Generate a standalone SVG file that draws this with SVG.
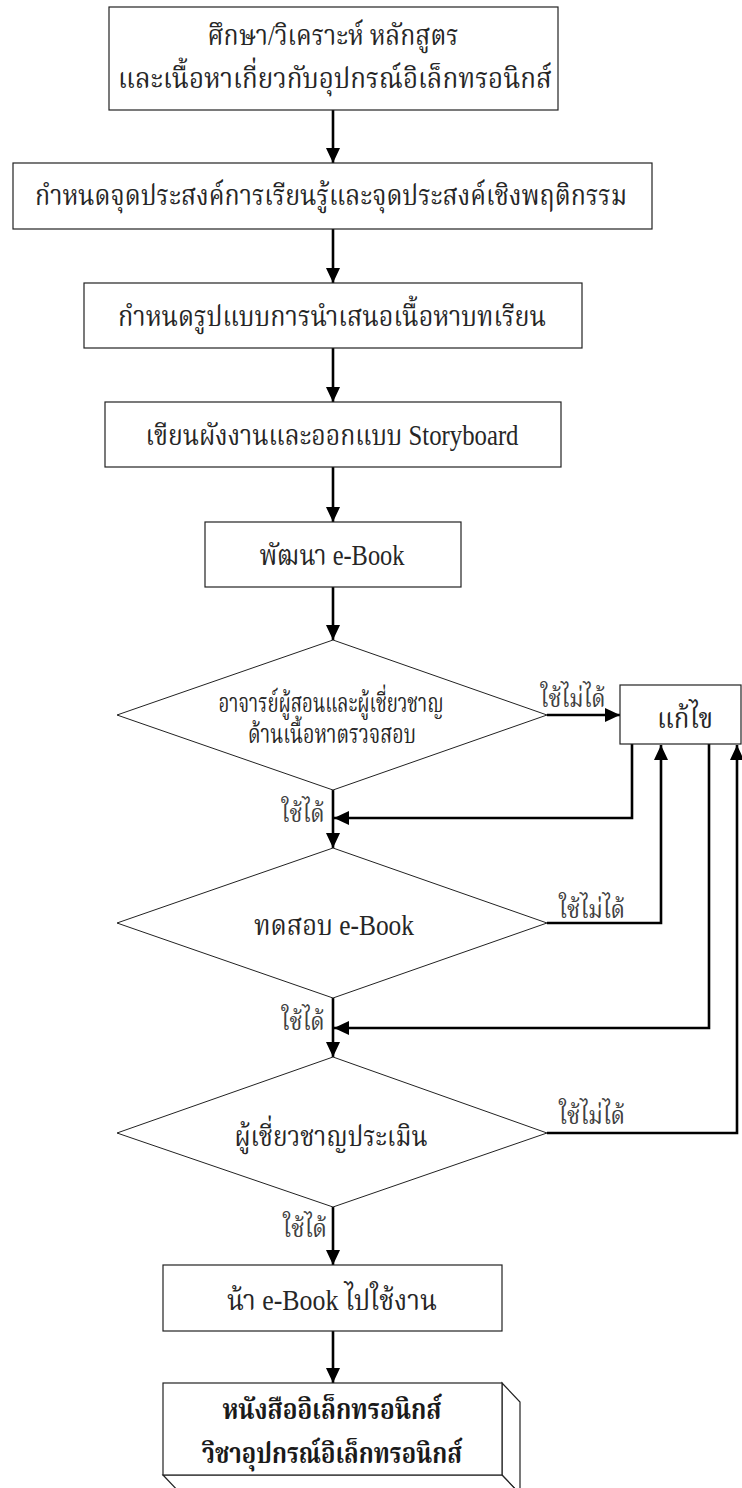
<svg xmlns="http://www.w3.org/2000/svg" width="742" height="1488" viewBox="0 0 742 1488">
<style>
.box{fill:#fff;stroke:#222;stroke-width:1.2}
.dia{fill:#fff;stroke:#222;stroke-width:1}
.t{font-family:"Liberation Serif","Noto Serif Thai","Noto Sans Thai",serif;font-size:29px;fill:#262626;text-anchor:middle}
.s{font-size:26px}
.b{font-weight:bold;fill:#1a1a1a}
.lbl{font-family:"Liberation Serif","Noto Serif Thai","Noto Sans Thai",serif;font-size:24px;fill:#404040;text-anchor:middle}
.c{fill:none;stroke:#000;stroke-width:2.6}
.a{marker-end:url(#ah)}
</style>
<defs>
<marker id="ah" markerUnits="userSpaceOnUse" markerWidth="16" markerHeight="14" refX="15" refY="7" orient="auto">
<path d="M0,0 L15,7 L0,14 z" fill="#000"/>
</marker>
</defs>
<g id="connectors">
<line class="c a" x1="333" y1="110" x2="333" y2="163"/>
<line class="c a" x1="333" y1="229" x2="333" y2="283"/>
<line class="c a" x1="333" y1="348" x2="333" y2="402"/>
<line class="c a" x1="333" y1="467" x2="333" y2="522"/>
<line class="c a" x1="333" y1="587" x2="333" y2="640"/>
<line class="c a" x1="547" y1="715" x2="620" y2="715"/>
<line class="c a" x1="333" y1="790" x2="333" y2="848"/>
<path class="c a" d="M632,744 V818 H334"/>
<path class="c a" d="M547,923 H661 V745"/>
<path class="c a" d="M709,744 V1028 H334"/>
<line class="c a" x1="333" y1="998" x2="333" y2="1057"/>
<path class="c a" d="M547,1133 H737 V745"/>
<line class="c a" x1="333" y1="1207" x2="333" y2="1265"/>
<line class="c a" x1="333" y1="1331" x2="333" y2="1383"/>
<text class="lbl" x="573" y="707" textLength="65" lengthAdjust="spacingAndGlyphs">ใช้ไม่ได้</text>
<text class="lbl" x="303" y="822" textLength="43" lengthAdjust="spacingAndGlyphs">ใช้ได้</text>
<text class="lbl" x="592" y="918" textLength="66" lengthAdjust="spacingAndGlyphs">ใช้ไม่ได้</text>
<text class="lbl" x="303" y="1030" textLength="43" lengthAdjust="spacingAndGlyphs">ใช้ได้</text>
<text class="lbl" x="592" y="1124" textLength="66" lengthAdjust="spacingAndGlyphs">ใช้ไม่ได้</text>
<text class="lbl" x="305" y="1237" textLength="44" lengthAdjust="spacingAndGlyphs">ใช้ได้</text>
</g>
<g id="n1">
<rect class="box" x="109" y="7" width="449" height="103"/>
<text class="t" x="333" y="45" textLength="251" lengthAdjust="spacingAndGlyphs">ศึกษา/วิเคราะห์ หลักสูตร</text>
<text class="t" x="335" y="88" textLength="434" lengthAdjust="spacingAndGlyphs">และเนื้อหาเกี่ยวกับอุปกรณ์อิเล็กทรอนิกส์</text>
</g>
<g id="n2">
<rect class="box" x="13" y="163" width="639" height="66"/>
<text class="t" x="331" y="205" textLength="592" lengthAdjust="spacingAndGlyphs">กำหนดจุดประสงค์การเรียนรู้และจุดประสงค์เชิงพฤติกรรม</text>
</g>
<g id="n3">
<rect class="box" x="84" y="283" width="498" height="65"/>
<text class="t" x="332" y="326" textLength="428" lengthAdjust="spacingAndGlyphs">กำหนดรูปแบบการนำเสนอเนื้อหาบทเรียน</text>
</g>
<g id="n4">
<rect class="box" x="105" y="402" width="456" height="65"/>
<text class="t" x="332" y="445" textLength="373" lengthAdjust="spacingAndGlyphs">เขียนผังงานและออกแบบ Storyboard</text>
</g>
<g id="n5">
<rect class="box" x="205" y="522" width="256" height="65"/>
<text class="t" x="332" y="565" textLength="145" lengthAdjust="spacingAndGlyphs">พัฒนา e-Book</text>
</g>
<g id="d1">
<polygon class="dia" points="333,640 547,715 333,790 117,715"/>
<text class="t s" x="331" y="712" textLength="225" lengthAdjust="spacingAndGlyphs">อาจารย์ผู้สอนและผู้เชี่ยวชาญ</text>
<text class="t s" x="332" y="743" textLength="168" lengthAdjust="spacingAndGlyphs">ด้านเนื้อหาตรวจสอบ</text>
</g>
<g id="fix">
<rect class="box" x="620" y="685" width="121" height="59"/>
<text class="t" x="685" y="728" textLength="56" lengthAdjust="spacingAndGlyphs">แก้ไข</text>
</g>
<g id="d2">
<polygon class="dia" points="333,848 547,923 333,998 117,923"/>
<text class="t" x="334" y="935" textLength="160" lengthAdjust="spacingAndGlyphs">ทดสอบ e-Book</text>
</g>
<g id="d3">
<polygon class="dia" points="333,1057 547,1133 333,1207 117,1133"/>
<text class="t" x="331" y="1146" textLength="193" lengthAdjust="spacingAndGlyphs">ผู้เชี่ยวชาญประเมิน</text>
</g>
<g id="n6">
<rect class="box" x="163" y="1265" width="339" height="66"/>
<text class="t" x="332" y="1310" textLength="210" lengthAdjust="spacingAndGlyphs">น้า e-Book ไปใช้งาน</text>
</g>
<g id="n7">
<polygon class="box" points="502,1383 520,1402 520,1494 502,1475"/>
<polygon class="box" points="163,1475 181,1494 520,1494 502,1475"/>
<rect class="box" x="163" y="1383" width="339" height="92"/>
<text class="t b" x="332" y="1419" textLength="219" lengthAdjust="spacingAndGlyphs">หนังสืออิเล็กทรอนิกส์</text>
<text class="t b" x="332" y="1463" textLength="260" lengthAdjust="spacingAndGlyphs">วิชาอุปกรณ์อิเล็กทรอนิกส์</text>
</g>
</svg>
